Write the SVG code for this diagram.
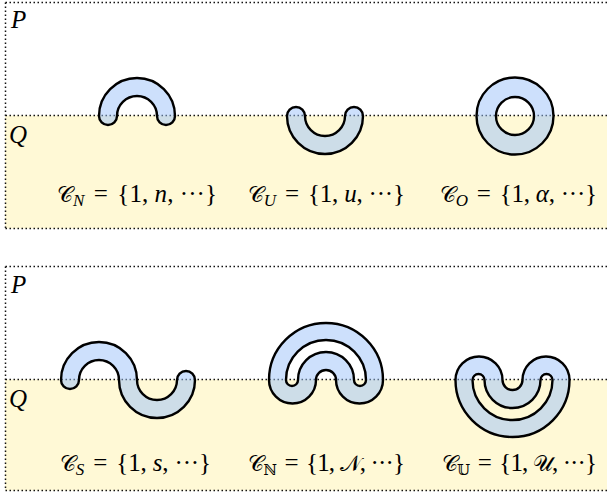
<svg xmlns="http://www.w3.org/2000/svg" width="607" height="493" viewBox="0 0 607 493">
<style>
.bg{fill:#fff9d6}
.dot{stroke:#111;stroke-width:1.5;stroke-dasharray:1.5 2.5;fill:none}
.shape{fill:#9bc1f9;fill-opacity:0.5;stroke:#000;stroke-width:2.4;fill-rule:evenodd;stroke-linejoin:round}
.lbl{font-family:"Liberation Serif",serif;font-size:25px;fill:#000}
.it{font-style:italic}
.sub{font-style:italic;font-size:17px}
.cal{font-family:"DejaVu Serif","DejaVu Sans",serif;font-style:normal;font-size:22px}
.calsub{font-family:"DejaVu Serif","DejaVu Sans",serif;font-size:15px}
.reg{font-family:"Liberation Serif",serif;font-size:25px;font-style:italic;fill:#000}
</style>
<g id="panel1">
<rect class="bg" x="5" y="115.5" width="602" height="113"/>
<path class="dot" d="M5.5 2.5H607M5.5 2.5V228.5M5.5 115.5H607M5.5 228.5H607"/>
<text class="reg" x="11" y="28">P</text>
<text class="reg" x="9" y="143">Q</text>
</g>
<g id="panel2">
<rect class="bg" x="5" y="379.5" width="602" height="111"/>
<path class="dot" d="M5.5 266.5H607M5.5 266.5V490.5M5.5 379.5H607M5.5 490.5H607"/>
<text class="reg" x="11" y="293">P</text>
<text class="reg" x="9" y="407">Q</text>
</g>
<g id="shapeN"><path class="shape" d="M99 116A38 38 0 0 1 175 116A9 9 0 0 1 157 116A20 20 0 0 0 117 116A9 9 0 0 1 99 116Z"/></g>
<g id="shapeU"><path class="shape" d="M287 116A38 38 0 0 0 363 116A9 9 0 0 0 345 116A20 20 0 0 1 305 116A9 9 0 0 0 287 116Z"/></g>
<g id="shapeO"><path class="shape" d="M476.5 116a38.5 38.5 0 1 0 77 0a38.5 38.5 0 1 0 -77 0ZM496 116a19 19 0 1 0 38 0a19 19 0 1 0 -38 0Z"/></g>
<g id="shapeS"><path class="shape" d="M61 380A38 38 0 0 1 137 380A20 20 0 0 0 177 380A9 9 0 0 1 195 380A38 38 0 0 1 119 380A20 20 0 0 0 79 380A9 9 0 0 1 61 380Z"/></g>
<g id="shapeNN"><path class="shape" d="M269 380A57 57 0 0 1 383 380A23.5 23.5 0 0 1 336 380A10 10 0 0 0 316 380A23.5 23.5 0 0 1 269 380ZM286 380A40 40 0 0 1 366 380A6 6 0 0 1 354 380A28 28 0 0 0 298 380A6 6 0 0 1 286 380Z"/></g>
<g id="shapeUU"><path class="shape" d="M455.5 380A57 57 0 0 0 569.5 380A23.5 23.5 0 0 0 522.5 380A10 10 0 0 1 502.5 380A23.5 23.5 0 0 0 455.5 380ZM472.5 380A40 40 0 0 0 552.5 380A6 6 0 0 0 540.5 380A28 28 0 0 1 484.5 380A6 6 0 0 0 472.5 380Z"/></g>
<g id="labels">
<text class="lbl" x="57" y="202" textLength="160" lengthAdjust="spacing"><tspan class="cal">𝒞</tspan><tspan class="sub" dy="4">N</tspan><tspan dy="-4" dx="3"> = </tspan><tspan dx="3">{1, </tspan><tspan class="it">n</tspan><tspan>, ···}</tspan></text>
<text class="lbl" x="248" y="202" textLength="157" lengthAdjust="spacing"><tspan class="cal">𝒞</tspan><tspan class="sub" dy="4">U</tspan><tspan dy="-4" dx="3"> = </tspan><tspan dx="3">{1, </tspan><tspan class="it">u</tspan><tspan>, ···}</tspan></text>
<text class="lbl" x="440" y="202" textLength="157" lengthAdjust="spacing"><tspan class="cal">𝒞</tspan><tspan class="sub" dy="4">O</tspan><tspan dy="-4" dx="3"> = </tspan><tspan dx="3">{1, </tspan><tspan class="it">α</tspan><tspan>, ···}</tspan></text>
<text class="lbl" x="60" y="471" textLength="151" lengthAdjust="spacing"><tspan class="cal">𝒞</tspan><tspan class="sub" dy="4">S</tspan><tspan dy="-4" dx="3"> = </tspan><tspan dx="3">{1, </tspan><tspan class="it">s</tspan><tspan>, ···}</tspan></text>
<text class="lbl" x="248" y="471" textLength="157" lengthAdjust="spacing"><tspan class="cal">𝒞</tspan><tspan class="calsub" dy="4">ℕ</tspan><tspan dy="-4" dx="3"> = </tspan><tspan dx="3">{1, </tspan><tspan class="cal">𝒩</tspan><tspan>, ···}</tspan></text>
<text class="lbl" x="442" y="471" textLength="155" lengthAdjust="spacing"><tspan class="cal">𝒞</tspan><tspan class="calsub" dy="4">𝕌</tspan><tspan dy="-4" dx="3"> = </tspan><tspan dx="3">{1, </tspan><tspan class="cal">𝒰</tspan><tspan>, ···}</tspan></text>
</g>
</svg>
